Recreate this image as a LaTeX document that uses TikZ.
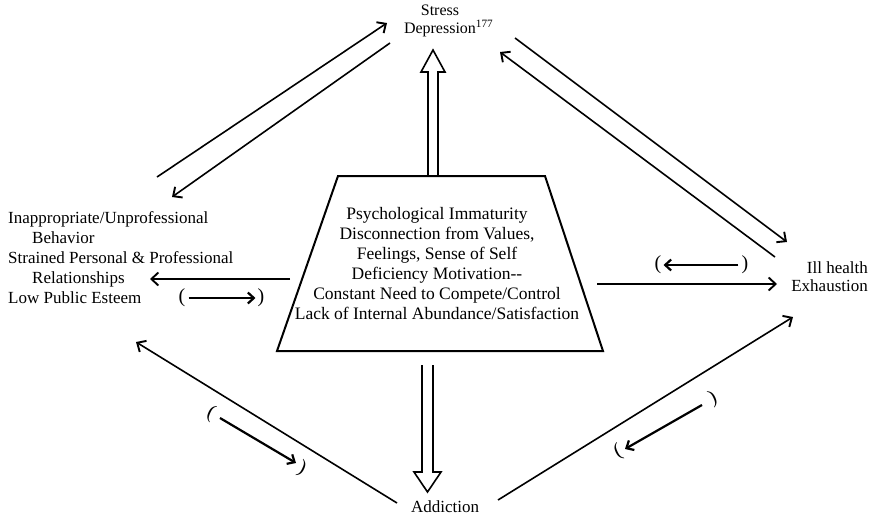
\documentclass[tikz,border=0pt]{standalone}
\usepackage{fontspec}
\setmainfont{Liberation Serif}
\usetikzlibrary{arrows.meta,calc}
\tikzset{
  lbl/.style={font=\fontsize{17}{20}\selectfont, inner sep=0pt},
  conn/.style={line width=1.6pt, -{Straight Barb[length=7pt,width=13pt,line width=1.9pt]}},
  shortarr/.style={line width=2.2pt, -{Straight Barb[length=6pt,width=11pt,line width=2.2pt]}},
  paren/.style={font=\fontsize{20}{20}\selectfont, inner sep=0pt},
  hollow/.style={line width=1.6pt, line join=miter},
  box/.style={line width=2pt, line join=miter},
}
\begin{document}
\begin{tikzpicture}[x=1pt,y=-1pt]
\useasboundingbox (0,0) rectangle (873,517);
% text nodes
\node[lbl, align=center, font=\fontsize{16}{18}\selectfont] (stress) at (440,21) {Stress\\Depression\rlap{\textsuperscript{177}}};
\node[lbl, align=left, anchor=west] (left) at (8,258) {Inappropriate/Unprofessional\\\hspace*{24pt}Behavior\\Strained Personal \& Professional\\\hspace*{24pt}Relationships\\Low Public Esteem};
\node[lbl, align=right, anchor=east, font=\fontsize{17}{18}\selectfont] (right) at (868,277) {Ill health\\Exhaustion};
\node[lbl] (addict) at (445,507) {Addiction};
% trapezoid
\coordinate (tl) at (338,176);
\coordinate (tr) at (545,176);
\coordinate (br) at (603,351);
\coordinate (bl) at (277,351);
\draw[box] (tl) -- (tr) -- (br) -- (bl) -- cycle;
\node[lbl, align=center, font=\fontsize{17.5}{20}\selectfont] (core) at (437,264) {Psychological Immaturity\\Disconnection from Values,\\Feelings, Sense of Self\\Deficiency Motivation-{}-\\Constant Need to Compete/Control\\Lack of Internal Abundance/Satisfaction};
% hollow double arrows
\draw[hollow] (428,176) -- (428,72) -- (421,72) -- (433,50) -- (445,72) -- (438,72) -- (438,176);
\draw[hollow] (422,365) -- (422,472) -- (414,472) -- (427.5,492) -- (441,472) -- (433,472) -- (433,365);
% connector end points
\coordinate (cL) at (290,279);   \coordinate (lR) at (150,279);
\coordinate (cR) at (597,284);   \coordinate (rL) at (777,284);
\coordinate (lT1) at (157,177);  \coordinate (sL1) at (387,23);
\coordinate (sL2) at (390,43);   \coordinate (lT2) at (172,197);
\coordinate (sR1) at (515,38);   \coordinate (rT1) at (787,242);
\coordinate (rT2) at (775,257);  \coordinate (sR2) at (500,52);
\coordinate (aL) at (397,503);   \coordinate (lB) at (136,342);
\coordinate (aR) at (498,500);   \coordinate (rB) at (793,317);
% main connectors
\draw[conn] (cL) -- (lR);
\draw[conn] (cR) -- (rL);
\draw[conn] (lT1) -- (sL1);
\draw[conn] (sL2) -- (lT2);
\draw[conn] (sR1) -- (rT1);
\draw[conn] (rT2) -- (sR2);
\draw[conn] (aL) -- (lB);
\draw[conn] (aR) -- (rB);
% reverse-direction short arrows in parentheses
\node[paren] (p1a) at (182,298) {(};
\node[paren] (p1b) at (261,298) {)};
\draw[shortarr] (p1a.east) ++(3,0) -- ($(p1b.west)+(-2,0)$);
\node[paren] (p2a) at (658,265) {(};
\node[paren] (p2b) at (745,265) {)};
\draw[shortarr] ($(p2b.west)+(-3,0)$) -- ($(p2a.east)+(2,0)$);
\node[paren, rotate=-25] (p3a) at (211,414) {(};
\node[paren, rotate=-25] (p3b) at (302,469) {)};
\coordinate (s3a) at (220,418); \coordinate (s3b) at (296,463);
\draw[shortarr] (s3a) -- (s3b);
\node[paren, rotate=25] (p4a) at (618,452) {(};
\node[paren, rotate=25] (p4b) at (713,399) {)};
\coordinate (s4a) at (702,405); \coordinate (s4b) at (625,449);
\draw[shortarr] (s4a) -- (s4b);
\end{tikzpicture}
\end{document}
